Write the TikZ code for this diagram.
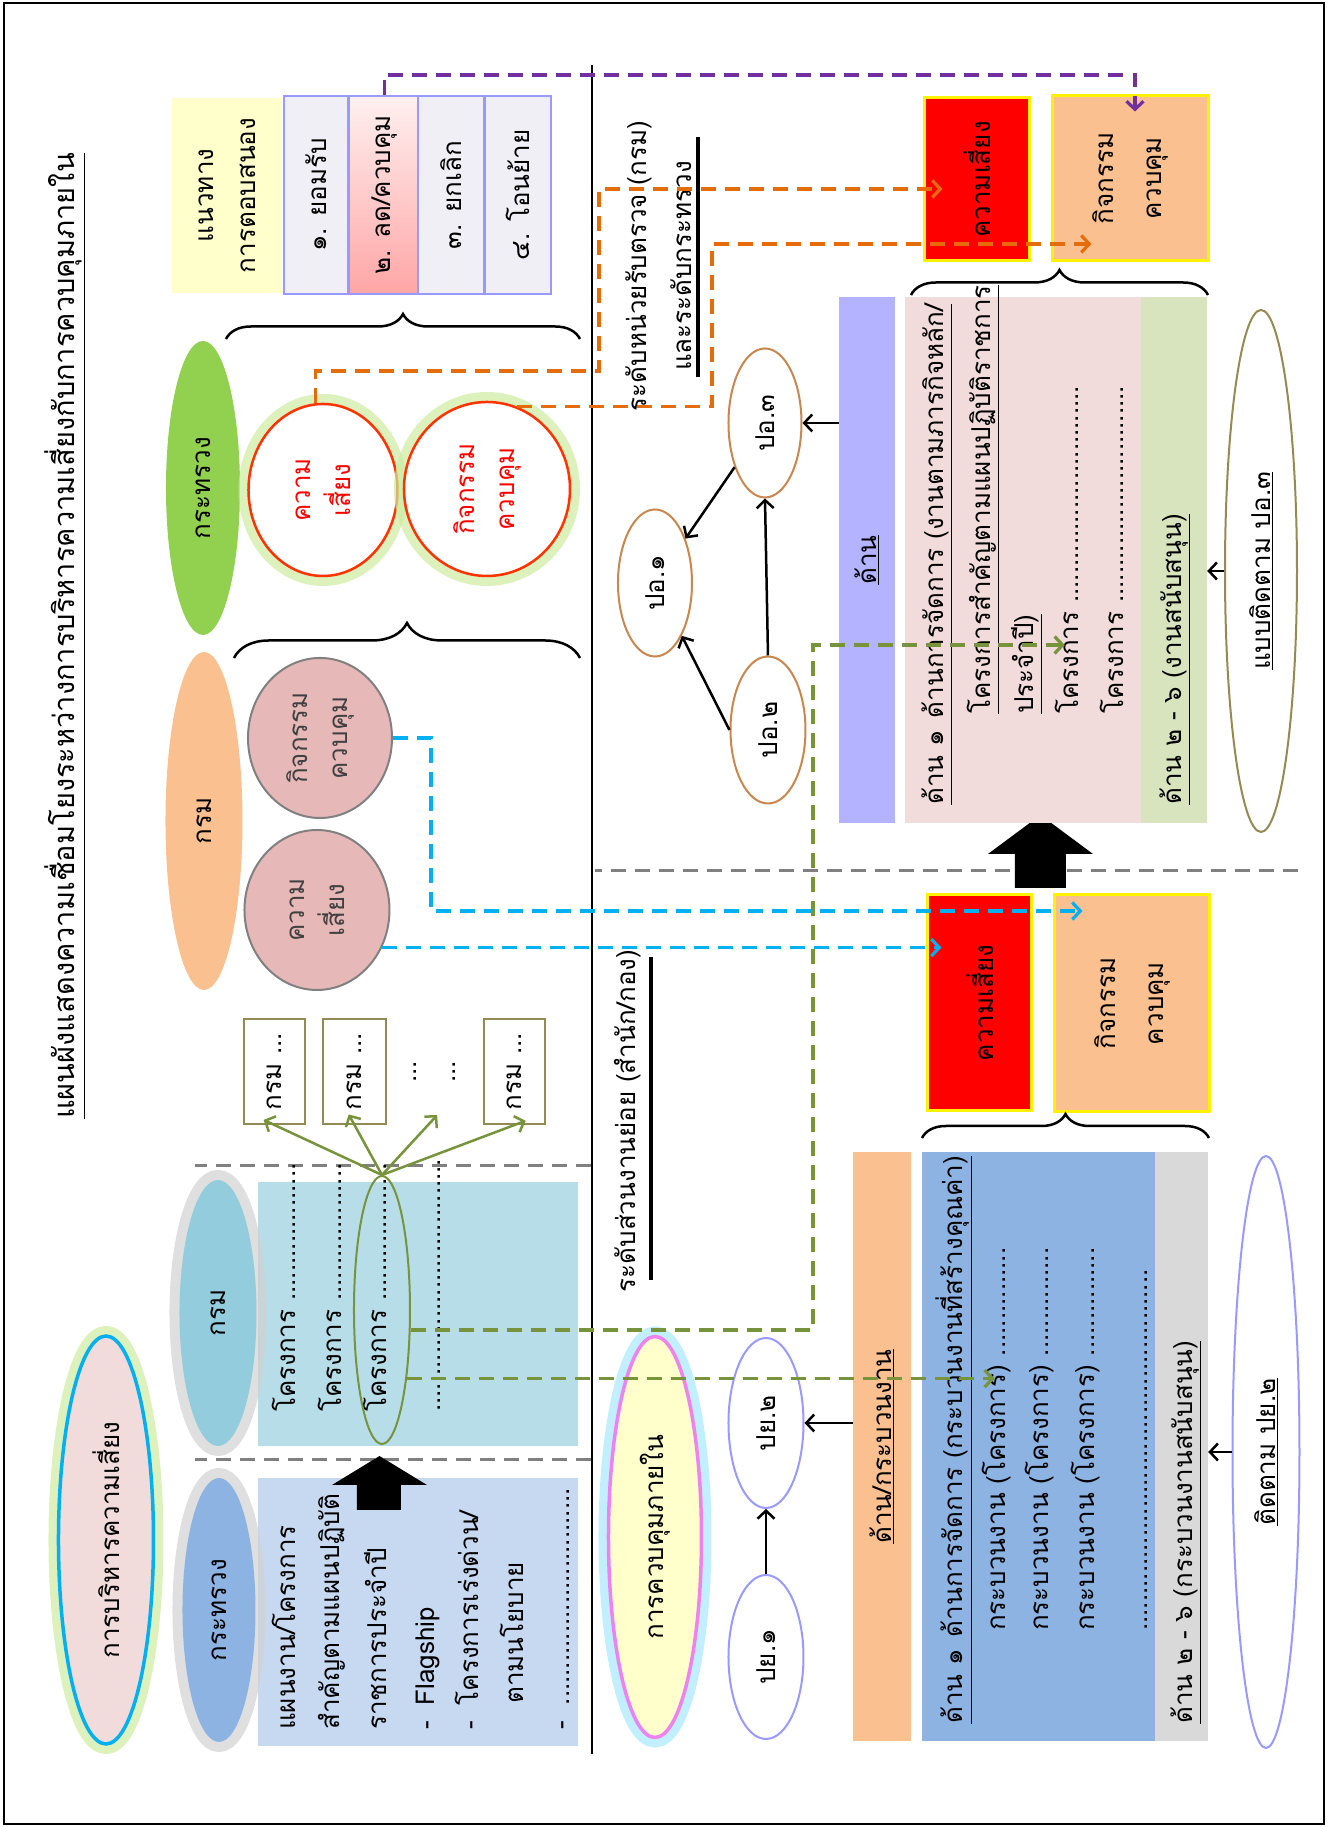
\documentclass[tikz,border=0pt]{standalone}
\usepackage{fontspec}
\setmainfont{Loma}[Script=Thai]
\usetikzlibrary{shapes.geometric,arrows.meta,decorations.pathreplacing}

\definecolor{ashpink}{HTML}{F2DCDB}
\definecolor{peach}{HTML}{FAC090}
\definecolor{grassgreen}{HTML}{92D050}
\definecolor{paleyellow}{HTML}{FFFFCC}
\definecolor{lavgrey}{HTML}{F1EFF6}
\definecolor{periwinkle}{HTML}{9999FF}
\definecolor{redline}{HTML}{FF3300}
\definecolor{dustypink}{HTML}{E6B9B8}
\definecolor{olivebrown}{HTML}{948A54}
\definecolor{olivegreen}{HTML}{77933C}
\definecolor{skyblue}{HTML}{B7DEE8}
\definecolor{tealblue}{HTML}{93CDDD}
\definecolor{paleblue}{HTML}{C6D9F1}
\definecolor{midblue}{HTML}{8DB3E2}
\definecolor{cyanline}{HTML}{00B0F0}
\definecolor{violetline}{HTML}{EE82EE}
\definecolor{lavender}{HTML}{B3B3FF}
\definecolor{sage}{HTML}{D7E4BD}
\definecolor{lightgrey}{HTML}{D9D9D9}
\definecolor{tanline}{HTML}{C9864E}
\definecolor{orangeline}{HTML}{E46C0A}
\definecolor{purpleline}{HTML}{7030A0}
\definecolor{greyline}{HTML}{808080}
\definecolor{darkgrey}{HTML}{404040}
\definecolor{halogreen}{HTML}{CDEBA0}
\definecolor{halocyan}{HTML}{A8E8FF}

\tikzset{
  panel/.style={rectangle, inner sep=0pt},
  oval/.style={ellipse, inner sep=0pt},
  row/.style={anchor=west, inner sep=0pt, text height=18pt, text depth=6pt},
  glow/.style={preaction={draw=#1, line width=20pt, draw opacity=0.7}},
  curl/.style={decorate, decoration={brace, amplitude=#1}, line width=2.5pt},
  linkdash/.style={->, dash pattern=on 15pt off 9pt, line width=3.2pt},
  splitdash/.style={dash pattern=on 15pt off 9pt, line width=3pt, greyline}
}

\begin{document}
\begin{tikzpicture}[x=1pt, y=1pt, rotate=90, transform shape,
  >={Straight Barb[length=8pt,width=17pt]},
  every node/.style={font=\fontsize{26}{42}\selectfont}]

\useasboundingbox (0,0) rectangle (1827,1333);
\draw[line width=2pt] (3,9) rectangle (1824,1329);

\coordinate (o1) at (1456,734);
\coordinate (o2) at (1638,734);
\coordinate (o3) at (1583,621);
\coordinate (p1) at (1752,198);
\coordinate (c1) at (916,902);
\coordinate (g1) at (1182,520);
\coordinate (moretip) at (703,904);

\node[anchor=base, font=\fontsize{29}{34}\selectfont] (title) at (1191,1258)
  {\underline{แผนผังแสดงความเชื่อมโยงระหว่างการบริหารความเสี่ยงกับการควบคุมภายใน}};

% response options
\node[panel, fill=paleyellow, minimum width=195, minimum height=110, align=center] (guide) at (1631.5,1106) {แนวทาง\\การตอบสนอง};
\node[panel, fill=lavgrey, draw=periwinkle, line width=2pt, minimum width=198, minimum height=64] (resp1) at (1632,1017) {๑. ยอมรับ};
\node[panel, top color=red!6, bottom color=red!35, draw=periwinkle, line width=2pt, minimum width=198, minimum height=71] (resp2) at (1632,948.5) {๒. ลด/ควบคุม};
\node[panel, fill=lavgrey, draw=periwinkle, line width=2pt, minimum width=198, minimum height=66] (resp3) at (1632,881.5) {๓. ยกเลิก};
\node[panel, fill=lavgrey, draw=periwinkle, line width=2pt, minimum width=198, minimum height=66] (resp4) at (1632,815) {๔. โอนย้าย};

% ministry level
\node[oval, fill=grassgreen, minimum width=294, minimum height=74] (moi) at (1339,1130) {กระทรวง};
\node[oval, fill=white, draw=redline, line width=2.5pt, glow=halogreen, text=red, align=center, font=\fontsize{26}{40}\selectfont,
  minimum width=172, minimum height=149] (mrisk) at (1337,1010) {ความ\\เสี่ยง};
\node[oval, fill=white, draw=redline, line width=2.5pt, glow=halogreen, text=red, align=center, font=\fontsize{26}{40}\selectfont,
  minimum width=174, minimum height=166] (mctrl) at (1338,846) {กิจกรรม\\ควบคุม};
\draw[curl=25] (1488,1107) -- (1488,753);

% department level
\node[oval, fill=peach, minimum width=338, minimum height=77] (dept) at (1006,1129) {กรม};
\node[oval, fill=dustypink, draw=greyline, line width=2pt, text=darkgrey, align=center, font=\fontsize{26}{40}\selectfont,
  minimum width=160, minimum height=144] (dctrl) at (1089,1013) {กิจกรรม\\ควบคุม};
\node[oval, fill=dustypink, draw=greyline, line width=2pt, text=darkgrey, align=center, font=\fontsize{26}{40}\selectfont,
  minimum width=160, minimum height=145] (drisk) at (917,1016) {ความ\\เสี่ยง};
\draw[curl=35] (1169,1099) -- (1169,753);

\node[panel, draw=olivebrown, line width=2pt, minimum width=105, minimum height=61] (unit1) at (755.5,1058.5) {กรม ...};
\node[panel, draw=olivebrown, line width=2pt, minimum width=105, minimum height=63] (unit2) at (755.5,978.5) {กรม ...};
\node[panel, draw=olivebrown, line width=2pt, minimum width=105, minimum height=61] (unit3) at (755.5,818.5) {กรม ...};
\node (more1) at (755,918) {...};
\node (more2) at (755,879) {...};

\draw[splitdash] (661,742) -- (661,1138);
\draw[splitdash] (367,742) -- (367,1138);
\draw[splitdash] (956,35) -- (956,738);
\draw[line width=2.5pt] (73,741) -- (1762,741);

% risk management side
\node[panel, fill=skyblue, minimum width=264, minimum height=320] (deptbox) at (513,915) {};
\node[oval, fill=tealblue, glow=black!18, minimum width=266, minimum height=77] (deptplan) at (514,1115) {กรม};
\node[row] (dp1) at (415,1043) {โครงการ ...................};
\node[row] (dp2) at (415,997) {โครงการ ...................};
\node[row] (dp3) at (415,952) {โครงการ ...................};
\node[row] (dp4) at (415,898) {...................................};
\node[oval, draw=olivegreen, line width=2pt, minimum width=268, minimum height=56] (proj) at (517,951) {};

\node[panel, fill=paleblue, minimum width=268, minimum height=320] (moibox) at (215,915) {};
\node[oval, fill=midblue, glow=black!18, minimum width=264, minimum height=73] (moiplan) at (217,1114) {กระทรวง};
\node[oval, fill=ashpink, draw=cyanline, line width=3.5pt, glow=halogreen, minimum width=408, minimum height=95] (riskmgmt) at (287,1227) {การบริหารความเสี่ยง};
\node[row] (mp1) at (97,1043) {แผนงาน/โครงการ};
\node[row] (mp2) at (97,999) {สำคัญตามแผนปฏิบัติ};
\node[row] (mp3) at (97,952) {ราชการประจำปี};
\node[row] (mp4) at (97,904) {-\hspace{16pt}Flagship};
\node[row] (mp5) at (97,860) {-\hspace{16pt}โครงการเร่งด่วน/};
\node[row] (mp6) at (123,815) {ตามนโยบาย};
\node[row] (mp7) at (97,769) {-\hspace{16pt}..............................};

\fill (317,932) -- (342,932) -- (342,906) -- (371,953.5) -- (342,1001) -- (342,976) -- (317,976) -- cycle;

% internal control side
\node[oval, fill=paleyellow, draw=violetline, line width=3.5pt, glow=halocyan, minimum width=401, minimum height=93] (ic) at (290,678) {การควบคุมภายใน};
\node[oval, fill=white, draw=periwinkle, line width=2pt, minimum width=164, minimum height=75] (py1) at (170,567) {ปย.๑};
\node[oval, fill=white, draw=periwinkle, line width=2pt, minimum width=170, minimum height=75] (py2) at (404,567) {ปย.๒};
\node[panel, fill=peach, minimum width=589, minimum height=58] (procbar) at (380.5,451) {\underline{ด้าน/กระบวนงาน}};
\node[panel, fill=midblue, minimum width=589, minimum height=233] (ctlbox) at (380.5,294.5) {};
\node[panel, fill=lightgrey, minimum width=589, minimum height=53] (greyband) at (380.5,151.5) {};
\node[row] (cp1) at (103,376) {\underline{ด้าน ๑\hspace{12pt}ด้านการจัดการ (กระบวนงานที่สร้างคุณค่า)}};
\node[row] (cp2) at (196,333) {กระบวนงาน (โครงการ) ...............};
\node[row] (cp3) at (196,290) {กระบวนงาน (โครงการ) ...............};
\node[row] (cp4) at (196,244) {กระบวนงาน (โครงการ) ...............};
\node[row] (cp5) at (196,191) {..................................................};
\node[row] (cg) at (103,147) {\underline{ด้าน ๒ - ๖ (กระบวนงานสนับสนุน)}};
\node[oval, fill=white, draw=periwinkle, line width=2pt, minimum width=592, minimum height=67] (follow2) at (375,67) {\underline{ติดตาม ปย.๒}};

\node[panel, fill=red, draw=yellow, line width=3pt, minimum width=216, minimum height=104] (riskL) at (824,353) {ความเสี่ยง};
\node[panel, fill=peach, draw=yellow, line width=3pt, minimum width=217, minimum height=154, align=center, font=\fontsize{26}{48}\selectfont] (ctrlL) at (823.5,201) {กิจกรรม\\ควบคุม};
\draw[curl=24] (689,411) -- (689,124);
\fill (939,267) -- (973,267) -- (973,240) -- (1012,292.5) -- (973,345) -- (973,318) -- (939,318) -- cycle;

\node[panel, fill=red, draw=yellow, line width=3pt, minimum width=163, minimum height=105] (riskR) at (1647.5,355.5) {ความเสี่ยง};
\node[panel, fill=peach, draw=yellow, line width=3pt, minimum width=165, minimum height=155, align=center, font=\fontsize{26}{48}\selectfont] (ctrlR) at (1648.5,202.5) {กิจกรรม\\ควบคุม};
\draw[curl=25] (1532,422) -- (1532,125);

\node[panel, fill=lavender, minimum width=526, minimum height=56] (lav) at (1267,466) {\underline{ด้าน}};
\node[panel, fill=ashpink, minimum width=526, minimum height=236] (mission) at (1267,310) {};
\node[panel, fill=sage, minimum width=526, minimum height=66] (support) at (1267,159) {};
\node[row] (rp1) at (1022,395) {\underline{ด้าน ๑\hspace{12pt}ด้านการจัดการ (งานตามภารกิจหลัก/}};
\node[row] (rp2) at (1113,348) {\underline{โครงการสำคัญตามแผนปฏิบัติราชการ}};
\node[row] (rp3) at (1113,305) {\underline{ประจำปี)}};
\node[row] (rp4) at (1113,260) {โครงการ ..............................};
\node[row] (rp5) at (1113,215) {โครงการ ..............................};
\node[row] (rs) at (1022,158) {\underline{ด้าน ๒ - ๖ (งานสนับสนุน)}};
\node[oval, fill=white, draw=olivebrown, line width=2pt, minimum width=522, minimum height=72] (follow3) at (1256,72) {\underline{แบบติดตาม ปอ.๓}};

\node[oval, fill=white, draw=tanline, line width=2pt, minimum width=149, minimum height=73] (po3) at (1404,568) {ปอ.๓};
\node[oval, fill=white, draw=tanline, line width=2pt, minimum width=147, minimum height=74] (po1) at (1244,678) {ปอ.๑};
\node[oval, fill=white, draw=tanline, line width=2pt, minimum width=147, minimum height=75] (po2) at (1097,565) {ปอ.๒};

\node[align=center, font=\fontsize{26}{45}\selectfont] (auditlvl) at (1561,674) {ระดับหน่วยรับตรวจ (กรม)\\และระดับกระทรวง};
\draw[line width=4pt] (1450,635) -- (1690,635);
\node (unitlvl) at (706,705) {ระดับส่วนงานย่อย (สำนัก/กอง)};
\draw[line width=4pt] (547,682) -- (870,682);

% links
\draw[->, line width=2.5pt, olivegreen, shorten >=-12pt] (proj.east) -- (unit1.west);
\draw[->, line width=2.5pt, olivegreen, shorten >=-12pt] (proj.east) -- (unit2.west);
\draw[->, line width=2.5pt, olivegreen, shorten >=-12pt] (proj.east) -- (moretip);
\draw[->, line width=2.5pt, olivegreen, shorten >=-12pt] (proj.east) -- (unit3.west);

\draw[->, line width=2.5pt] (py1) -- (py2);
\draw[->, line width=2.5pt] (procbar.north -| py2) -- (py2.south);
\draw[->, line width=2.5pt] (follow2.north) -- (follow2.north |- greyband.south);
\draw[->, line width=2.5pt] (follow3.north) -- (follow3.north |- support.south);
\draw[->, line width=2.5pt] (po3.south |- lav.north) -- (po3.south);
\draw[->, line width=2.5pt] (po2.east) -- (po3.west);
\draw[->, line width=2.5pt] (po3) -- (po1);
\draw[->, line width=2.5pt] (po2.north) -- (po1);

\draw[linkdash, orangeline, shorten >=-19pt] (mrisk.5) -| (o1) -- (o2) -- (o2 |- riskR.north);
\draw[linkdash, orangeline, shorten >=-40pt] (mctrl.-20) |- (o3) -- (o3 |- ctrlR.north);
\draw[linkdash, purpleline, shorten >=-17pt] (resp2.east) -| (p1) -- (ctrlR.east |- p1);
\draw[linkdash, cyanline, shorten >=-15pt] (drisk.240) -- (drisk.240 |- riskL.north);
\draw[linkdash, cyanline, shorten >=-29pt] (dctrl.south) |- (c1) -- (c1 |- ctrlL.north);
\draw[linkdash, olivegreen, shorten >=-7pt] (proj.200) -- (proj.200 |- cp2.north);
\draw[linkdash, olivegreen, shorten >=-4pt] (proj.235) |- (g1) -- (g1 |- rp4.north);

\end{tikzpicture}
\end{document}
